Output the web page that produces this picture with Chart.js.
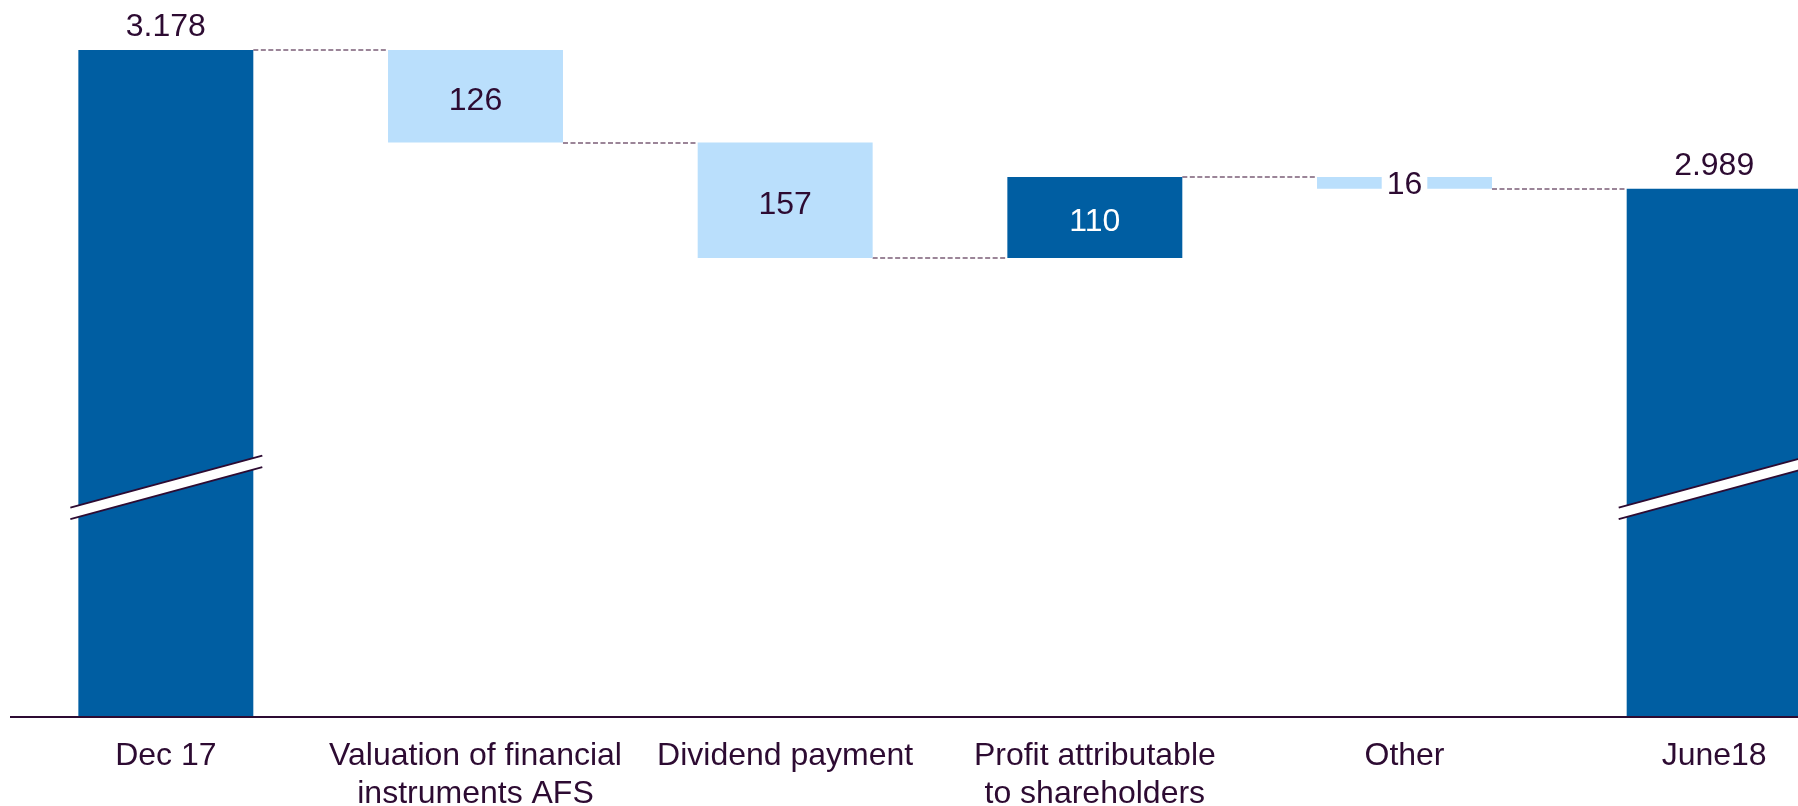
<!DOCTYPE html>
<html>
<head>
<meta charset="utf-8">
<script src="https://cdn.jsdelivr.net/npm/chart.js@4/dist/chart.umd.min.js"></script>
<style>
  html, body { margin: 0; padding: 0; background: #ffffff; overflow: hidden; }
  #wrap { position: relative; width: 1880px; height: 806px; }
</style>
</head>
<body>
<div id="wrap"><canvas id="c"></canvas></div>
<script>
// ---- data ----
const categories = ['Dec 17', ['Valuation of financial', 'instruments AFS'], 'Dividend payment', ['Profit attributable', 'to shareholders'], 'Other', 'June18'];
const values = [3178, -126, -157, 110, -16, 2989];
const isTotal = [true, false, false, false, false, true];
const axisBreakMin = 2270;   // broken value axis starts here
const axisMax = 3178;

// ---- style ----
const darkBlue = '#005ea2';
const lightBlue = '#badffc';
const textColor = '#2d0b32';
const connectorColor = '#9b8598';
const fontFamily = '"Liberation Sans", Arial, sans-serif';

function fmt(v) {
  return String(Math.abs(v)).replace(/\B(?=(\d{3})+(?!\d))/g, '.');
}

// build floating bars from the values
let running = 0;
const barData = [];
const levels = [];
values.forEach((v, i) => {
  if (isTotal[i]) { running = v; barData.push(v); }
  else { barData.push([running, running + v]); running += v; }
  levels.push(running);
});
const colors = values.map((v, i) => (isTotal[i] || v > 0) ? darkBlue : lightBlue);

const waterfallPlugin = {
  id: 'waterfall',
  beforeDatasetsDraw(chart) {
    const ctx = chart.ctx, meta = chart.getDatasetMeta(0), y = chart.scales.y;
    ctx.save();
    ctx.strokeStyle = connectorColor;
    ctx.lineWidth = 2;
    ctx.setLineDash([5, 2.5]);
    for (let i = 0; i < meta.data.length - 1; i++) {
      const a = meta.data[i], b = meta.data[i + 1];
      const py = Math.round(y.getPixelForValue(levels[i]));
      ctx.beginPath();
      ctx.moveTo(a.x + a.width / 2, py);
      ctx.lineTo(b.x - b.width / 2, py);
      ctx.stroke();
    }
    ctx.restore();
  },
  afterDatasetsDraw(chart) {
    const ctx = chart.ctx, meta = chart.getDatasetMeta(0), area = chart.chartArea;
    ctx.save();
    // axis break symbols on total bars
    const slope = -0.271, gap = 11.5;
    const cyBase = area.top + 0.656 * (area.bottom - area.top);
    meta.data.forEach((bar, i) => {
      if (!isTotal[i]) return;
      const x1 = bar.x - bar.width / 2 - 8, x2 = bar.x + bar.width / 2 + 9;
      const yAt = (x) => cyBase + (x - bar.x) * slope;
      ctx.fillStyle = '#ffffff';
      ctx.beginPath();
      ctx.moveTo(x1, yAt(x1) - gap / 2);
      ctx.lineTo(x2, yAt(x2) - gap / 2);
      ctx.lineTo(x2, yAt(x2) + gap / 2);
      ctx.lineTo(x1, yAt(x1) + gap / 2);
      ctx.closePath();
      ctx.fill();
      ctx.strokeStyle = textColor;
      ctx.lineWidth = 1.8;
      [-gap / 2, gap / 2].forEach(off => {
        ctx.beginPath();
        ctx.moveTo(x1, yAt(x1) + off);
        ctx.lineTo(x2, yAt(x2) + off);
        ctx.stroke();
      });
    });
    // value labels
    ctx.font = '32px ' + fontFamily;
    ctx.textAlign = 'center';
    ctx.textBaseline = 'middle';
    meta.data.forEach((bar, i) => {
      const txt = fmt(values[i]);
      if (isTotal[i]) {
        ctx.fillStyle = textColor;
        ctx.fillText(txt, bar.x, bar.y - 23);
      } else {
        const top = Math.min(bar.y, bar.base), bot = Math.max(bar.y, bar.base);
        const small = (bot - top) < 30;
        const cy = (top + bot) / 2 + (small ? 2.5 : 4.5);
        if (small) {
          const w = ctx.measureText(txt).width + 10;
          ctx.fillStyle = '#ffffff';
          ctx.fillRect(bar.x - w / 2, top - 1, w, bot - top + 2);
        }
        ctx.fillStyle = values[i] > 0 ? '#ffffff' : textColor;
        ctx.fillText(txt, bar.x, cy);
      }
    });
    ctx.restore();
  }
};

new Chart(document.getElementById('c'), {
  type: 'bar',
  data: {
    labels: categories,
    datasets: [{
      data: barData,
      backgroundColor: colors,
      borderWidth: 0,
      barPercentage: 1,
      categoryPercentage: 0.565
    }]
  },
  options: {
    responsive: true,
    maintainAspectRatio: false,
    animation: false,
    events: [],
    layout: { padding: { top: 50, left: 11, right: 11, bottom: 0 } },
    plugins: { legend: { display: false }, tooltip: { enabled: false } },
    scales: {
      x: {
        grid: { display: false, drawTicks: false },
        border: { display: true, color: textColor, width: 2, z: 1 },
        ticks: {
          color: textColor,
          padding: 20,
          maxRotation: 0,
          autoSkip: false,
          font: { family: fontFamily, size: 32, lineHeight: 1.2 }
        },
        afterFit(scale) { scale.height = 89; }
      },
      y: {
        display: false,
        min: axisBreakMin,
        max: axisMax
      }
    }
  },
  plugins: [waterfallPlugin]
});
</script>
</body>
</html>
